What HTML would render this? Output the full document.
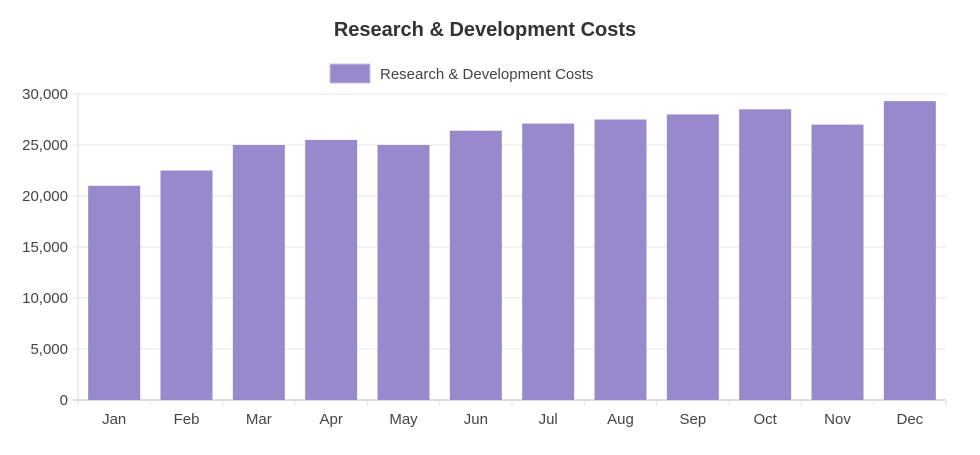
<!DOCTYPE html>
<html><head><meta charset="utf-8"><style>
body{margin:0;background:#fff;font-family:"Liberation Sans",sans-serif;}
svg text{font-family:"Liberation Sans",sans-serif;}
</style></head><body>
<svg id="chart" width="980" height="450">
<text x="485" y="36" text-anchor="middle" font-size="20" font-weight="bold" fill="#333">Research &amp; Development Costs</text>
<g>
<rect x="330" y="64" width="40" height="19" fill="#9988cc" stroke="#c8c0e4"/>
<text x="380" y="79" font-size="15" fill="#444">Research &amp; Development Costs</text>
</g>
<g id="grid"></g><g id="bars"></g><g id="labels"></g>
</svg>
<script>
const categories=["Jan","Feb","Mar","Apr","May","Jun","Jul","Aug","Sep","Oct","Nov","Dec"];
const values=[21000,22500,25000,25500,25000,26400,27100,27500,28000,28500,27000,29300];
const yTicks=[0,5000,10000,15000,20000,25000,30000];
const yTickLabels=["0","5,000","10,000","15,000","20,000","25,000","30,000"];
const NS="http://www.w3.org/2000/svg";
const x0=78,x1=946,yb=400,yt=94,ymax=30000;
const y=v=>yb-(v/ymax)*(yb-yt);
const bw=(x1-x0)/categories.length;
const grid=document.getElementById('grid'),bars=document.getElementById('bars'),labels=document.getElementById('labels');
function mk(tag,attrs,parent){const e=document.createElementNS(NS,tag);for(const k in attrs)e.setAttribute(k,attrs[k]);parent.appendChild(e);return e;}
yTicks.forEach((t,i)=>{
 const l=mk('line',{x1:x0-5,x2:x1,y1:y(t),y2:y(t),stroke:i==0?'#bbb':'#e6e6e6'},grid);
 
 
 const tx=mk('text',{x:x0-10,y:y(t)+5,'text-anchor':'end','font-size':15,fill:'#444'},labels);
 tx.textContent=yTickLabels[i];
 
 
});
const ax=mk('line',{x1:x0,x2:x0,y1:yt,y2:yb+5,stroke:'#ddd'},grid);


categories.forEach((c,i)=>{
 const cx=x0+bw*(i+0.5);
 const tk=mk('line',{x1:x0+bw*(i+1),x2:x0+bw*(i+1),y1:yb,y2:yb+5,stroke:'#ddd'},grid);
 
 
 const r=mk('rect',{x:cx-26,y:y(values[i]),width:52,height:yb-y(values[i]),fill:'#9988cc'},bars);
 
 
 const t=mk('text',{x:cx,y:424,'text-anchor':'middle','font-size':15,fill:'#444'},labels);
 t.textContent=c;
 
 
});
</script>
</body></html>
